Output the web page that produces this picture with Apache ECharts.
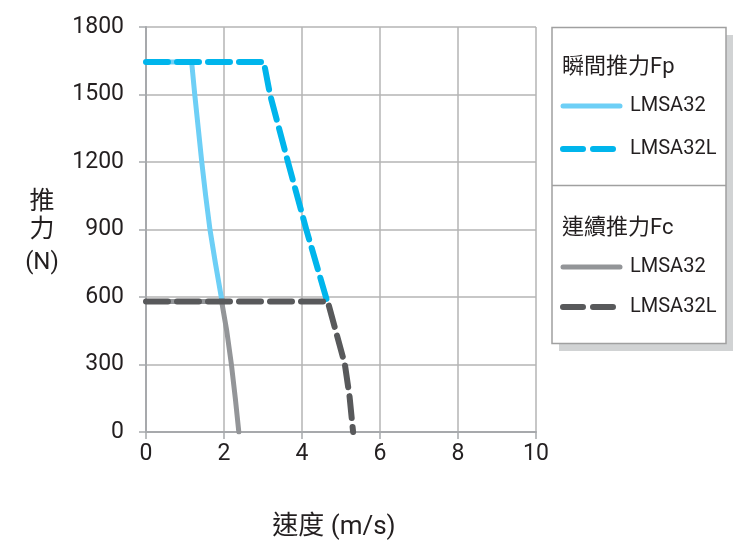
<!DOCTYPE html>
<html><head><meta charset="utf-8">
<script src="https://cdn.jsdelivr.net/npm/echarts@6/dist/echarts.min.js"></script>
<style>html,body{margin:0;padding:0;background:#fff}#c{width:748px;height:548px}</style>
</head><body><div id="c"></div>
<script>
// Data
const xTicks = [0, 2, 4, 6, 8, 10];
const yTicks = [0, 300, 600, 900, 1200, 1500, 1800];
const groupFp = '瞬間推力Fp';
const groupFc = '連續推力Fc';
const modelA = 'LMSA32';
const modelB = 'LMSA32L';
const fpLMSA32 = [[0,1645],[1.17,1645],[1.25,1500],[1.34,1350],[1.43,1200],[1.53,1050],[1.64,900],[1.78,750],[1.94,590]];
const fpLMSA32L = [[0,1645],[3.02,1645],[3.18,1500],[3.64,1200],[4.11,900],[4.63,590]];
const fcLMSA32 = [[0,580],[1.94,580],[2.07,450],[2.19,300],[2.29,150],[2.38,0]];
const fcLMSA32L = [[0,580],[4.66,580],[4.88,440],[5.1,300],[5.22,157],[5.31,0]];

const C_LB = '#6dcff6', C_CY = '#00b5ec', C_GR = '#939598', C_DK = '#58595b';
const FONT = 'Roboto, "Noto Sans CJK TC", sans-serif';
const TXT = '#231f20';

const chart = echarts.init(document.getElementById('c'), null, {renderer:'canvas'});
function mkSeries(name, data, color, dashed, z){
  return {type:'line', name, data, showSymbol:false, symbol:'none', z,
    lineStyle:{color, width: dashed?6:5, type: dashed?[22,9]:'solid', cap:'round', join:'round'}};
}
const lx = 563, lt = 630;
function legLine(y, color, dashed){
  return {type:'line', z:12, shape:{x1:lx, y1:y, x2:lx+57, y2:y},
    style:{stroke:color, lineWidth: dashed?6:5, lineCap:'round', lineDash: dashed?[20,10]:null}};
}
function legText(x, y, t, size){
  return {type:'text', z:12, x, y, style:{text:t, font:size+'px '+FONT, fill:TXT, textVerticalAlign:'middle', textBaseline:'middle'}};
}
chart.setOption({
  animation:false,
  grid:{left:146, right:212, top:27, bottom:116},
  xAxis:{type:'value', min:0, max:10, interval:2,
    name:'速度 (m/s)', nameLocation:'middle', nameGap:82,
    nameTextStyle:{fontSize:26, color:TXT, fontFamily:FONT, padding:[0,14,0,0]},
    axisLine:{show:true, onZero:false, lineStyle:{color:'#a7a9ac', width:2}},
    axisTick:{show:true, length:7, lineStyle:{color:'#a7a9ac', width:1.5}},
    axisLabel:{fontSize:23, color:TXT, fontFamily:FONT, margin:11, formatter:v=>xTicks.includes(v)?String(v):''},
    splitLine:{show:true, lineStyle:{color:'#b5b5b5', width:1.5}}},
  yAxis:{type:'value', min:0, max:1800, interval:300,
    name:'{a|推}\n{a|力}\n{b|(N)}', nameLocation:'middle', nameGap:104, nameRotate:0,
    nameTextStyle:{color:TXT, fontFamily:FONT, align:'center', padding:[10,0,0,0],
      rich:{a:{fontSize:25, lineHeight:28, color:TXT, align:'center', fontFamily:'"Noto Sans CJK TC", sans-serif'},
            b:{fontSize:24, lineHeight:42, color:TXT, align:'center', fontFamily:FONT}}},
    axisLine:{show:true, lineStyle:{color:'#a7a9ac', width:2}},
    axisTick:{show:true, length:7, lineStyle:{color:'#a7a9ac', width:1.5}},
    axisLabel:{fontSize:23, color:TXT, fontFamily:FONT, margin:22, formatter:v=>yTicks.includes(v)?String(v):''},
    splitLine:{show:true, lineStyle:{color:'#b5b5b5', width:1.5}}},
  series:[
    mkSeries(groupFp+' '+modelA, fpLMSA32, C_LB, false, 2),
    mkSeries(groupFc+' '+modelA, fcLMSA32, C_GR, false, 3),
    mkSeries(groupFp+' '+modelB, fpLMSA32L, C_CY, true, 4),
    mkSeries(groupFc+' '+modelB, fcLMSA32L, C_DK, true, 5)
  ],
  graphic:[
    {type:'rect', z:10, shape:{x:559, y:35, width:174, height:316}, style:{fill:'#d1d3d4'}},
    {type:'rect', z:11, shape:{x:552, y:27.5, width:174, height:316}, style:{fill:'#fff', stroke:'#a0a0a0', lineWidth:1.5}},
    {type:'line', z:12, shape:{x1:552, y1:185.5, x2:726, y2:185.5}, style:{stroke:'#a0a0a0', lineWidth:1.5}},
    legText(562, 67, groupFp, 22),
    legLine(106, C_LB, false),
    legText(lt, 106, modelA, 20),
    legLine(149, C_CY, true),
    legText(lt, 149, modelB, 20),
    legText(562, 228, groupFc, 22),
    legLine(267, C_GR, false),
    legText(lt, 267, modelA, 20),
    legLine(307, C_DK, true),
    legText(lt, 307, modelB, 20)
  ]
});
</script></body></html>
